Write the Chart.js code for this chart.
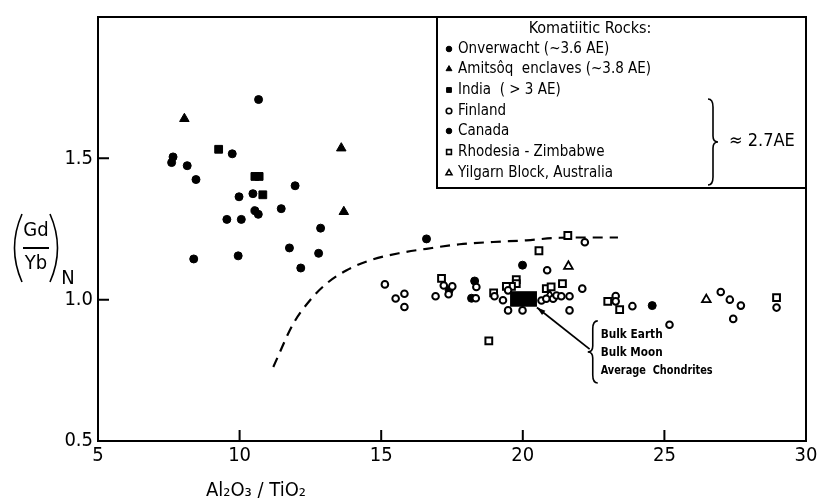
<!DOCTYPE html>
<html><head><meta charset="utf-8">
<script src="https://cdn.jsdelivr.net/npm/chart.js@4"></script>
<style>html,body{margin:0;padding:0;background:#fff;}canvas{display:block}</style>
</head><body>
<div style="width:821px;height:503px;position:relative"><canvas id="c" width="821" height="503"></canvas></div>
<script>
// ---------- data (x = Al2O3/TiO2, y = (Gd/Yb)N) ----------
const onverwacht = [[10.67,1.708],[9.74,1.516],[7.65,1.505],[7.6,1.485],[8.15,1.474],[8.46,1.425],[11.96,1.403],[9.98,1.364],[10.47,1.375],[11.47,1.322],[10.54,1.315],[10.66,1.302],[9.55,1.284],[10.06,1.284],[12.86,1.253],[11.76,1.183],[12.79,1.164],[8.38,1.144],[9.95,1.155],[12.16,1.112]];
const amitsoq = [[8.05,1.64],[13.59,1.536],[13.68,1.311]];
const india = [[9.26,1.532],[10.54,1.436],[10.69,1.436],[10.82,1.371]];
const finland = [[15.13,1.054],[15.51,1.004],[15.82,1.021],[15.82,0.974],[16.92,1.012],[17.21,1.05],[17.51,1.047],[17.38,1.019],[18.36,1.045],[18.34,1.005],[19.0,1.012],[19.3,0.998],[19.48,1.033],[19.48,0.962],[19.99,0.962],[20.66,0.997],[20.83,1.003],[21.07,1.003],[21.19,1.015],[21.36,1.012],[21.65,1.012],[22.1,1.039],[21.65,0.962],[20.86,1.104],[22.19,1.203],[23.28,1.013],[23.28,0.994],[23.87,0.977],[25.18,0.911],[26.99,1.027],[27.31,1.0],[27.7,0.979],[27.43,0.932],[28.96,0.972]];
const canada = [[16.6,1.215],[18.3,1.066],[19.99,1.122],[24.57,0.979],[18.19,1.005],[17.4,1.033]];
const rhodesia = [[17.13,1.075],[18.97,1.024],[19.77,1.071],[19.77,1.057],[19.6,1.047],[19.42,1.047],[20.57,1.173],[21.59,1.227],[20.83,1.039],[21.0,1.045],[21.4,1.057],[23.0,0.994],[23.42,0.965],[28.96,1.007],[18.8,0.854]];
const yilgarn = [[21.61,1.118],[20.95,1.015],[26.48,1.0]];
const boundary = [[11.19,0.762],[11.89,0.914],[12.48,0.997],[13.07,1.057],[13.78,1.104],[14.6,1.139],[15.66,1.165],[16.6,1.18],[17.77,1.196],[18.95,1.204],[20.13,1.21],[21.31,1.219],[22.48,1.22],[23.36,1.22]];
const bulkBox = {x0:19.55, x1:20.5, y0:0.975, y1:1.03};
const arrow = {from:[22.36,0.825], to:[20.5,0.972]};
const bulkLabels = ['Bulk Earth','Bulk Moon','Average  Chondrites'];
const bulkLabelPos = {x:22.75, y:[0.875,0.812,0.750], braceX:22.47, braceY0:0.925, braceY1:0.705};
const legendTitle = 'Komatiitic Rocks:';
const groupLabel = '\u2248 2.7AE';
const xTickLabels = ['5','10','15','20','25','30'];
const yTickLabels = ['0.5','1.0','1.5'];

const FONT = '"DejaVu Sans Condensed","DejaVu Sans",sans-serif';
const toXY = a => a.map(p => ({x:p[0], y:p[1]}));

function ds(label, arr, style, r, filled, bw){
  return {label, data:toXY(arr), pointStyle:style, pointRadius:r, pointHoverRadius:r,
    pointBackgroundColor: filled ? '#000' : '#fff', pointBorderColor:'#000', pointBorderWidth: bw, showLine:false};
}
const datasets = [
  ds('Onverwacht (~3.6 AE)', onverwacht, 'circle', 4, true, 1),
  ds('Amitsôq  enclaves (~3.8 AE)', amitsoq, 'triangle', 5.5, true, 1),
  ds('India  ( > 3 AE)', india, 'rect', 5.5, true, 1),
  ds('Finland', finland, 'circle', 3.3, false, 2),
  ds('Canada', canada, 'circle', 4, true, 1),
  ds('Rhodesia - Zimbabwe', rhodesia, 'rect', 4.8, false, 2),
  ds('Yilgarn Block, Australia', yilgarn, 'triangle', 5, false, 1.8),
  {label:'boundary', data:toXY(boundary), showLine:true, pointRadius:0, borderColor:'#000', borderWidth:2.2, borderDash:[10,7], cubicInterpolationMode:'monotone', fill:false}
];

function marker(ctx, d, x, y, r){
  ctx.save();
  ctx.fillStyle = d.pointBackgroundColor; ctx.strokeStyle = '#000'; ctx.lineWidth = Math.min(d.pointBorderWidth, 1.6);
  ctx.beginPath();
  if (d.pointStyle === 'circle') ctx.arc(x, y, r, 0, Math.PI*2);
  else if (d.pointStyle === 'rect') { const s = r*Math.SQRT1_2; ctx.rect(x-s, y-s, 2*s, 2*s); }
  else { const w = r*Math.sqrt(3)/2; ctx.moveTo(x, y-r); ctx.lineTo(x+w, y+r/2); ctx.lineTo(x-w, y+r/2); ctx.closePath(); }
  ctx.fill(); ctx.stroke(); ctx.restore();
}

function fitText(ctx, t, x, y, w){
  const m = ctx.measureText(t).width;
  ctx.save(); ctx.translate(x, y); ctx.scale(Math.min(1, w / m), 1); ctx.fillText(t, 0, 0); ctx.restore();
}

const deco = {
  id:'deco',
  afterDraw(chart){
    const {ctx, chartArea:a, scales:{x, y}} = chart;
    ctx.save();
    ctx.strokeStyle = '#000'; ctx.fillStyle = '#000'; ctx.lineWidth = 2;
    // frame
    ctx.strokeRect(a.left, a.top, a.right - a.left, a.bottom - a.top);
    // inward ticks
    ctx.beginPath();
    [10,15,20,25].forEach(v => { const px = x.getPixelForValue(v); ctx.moveTo(px, a.bottom); ctx.lineTo(px, a.bottom - 11); });
    [1.0,1.5].forEach(v => { const py = y.getPixelForValue(v); ctx.moveTo(a.left, py); ctx.lineTo(a.left + 11, py); });
    ctx.stroke();
    // bulk earth box
    const bx0 = x.getPixelForValue(bulkBox.x0), bx1 = x.getPixelForValue(bulkBox.x1);
    const by0 = y.getPixelForValue(bulkBox.y0), by1 = y.getPixelForValue(bulkBox.y1);
    ctx.fillRect(bx0, by1, bx1 - bx0, by0 - by1);
    // arrow
    const ax0 = x.getPixelForValue(arrow.from[0]), ay0 = y.getPixelForValue(arrow.from[1]);
    const ax1 = x.getPixelForValue(arrow.to[0]), ay1 = y.getPixelForValue(arrow.to[1]);
    ctx.lineWidth = 1.8;
    ctx.beginPath(); ctx.moveTo(ax0, ay0); ctx.lineTo(ax1, ay1); ctx.stroke();
    const ang = Math.atan2(ay1 - ay0, ax1 - ax0);
    ctx.beginPath(); ctx.moveTo(ax1, ay1);
    ctx.lineTo(ax1 - 9*Math.cos(ang - 0.3), ay1 - 9*Math.sin(ang - 0.3));
    ctx.lineTo(ax1 - 9*Math.cos(ang + 0.3), ay1 - 9*Math.sin(ang + 0.3));
    ctx.closePath(); ctx.fill();
    // brace + bulk labels
    const brx = x.getPixelForValue(bulkLabelPos.braceX);
    const bry0 = y.getPixelForValue(bulkLabelPos.braceY0), bry1 = y.getPixelForValue(bulkLabelPos.braceY1);
    drawBrace(ctx, brx, bry0, bry1, -1);
    ctx.font = 'bold 13px ' + FONT; ctx.textBaseline = 'middle'; ctx.textAlign = 'left';
    const tx = x.getPixelForValue(bulkLabelPos.x);
    const widths = [62, 62, 112];
    bulkLabels.forEach((t, i) => fitText(ctx, t, tx, y.getPixelForValue(bulkLabelPos.y[i]), widths[i]));

    // legend box
    const L = 437, T = a.top, R = a.right, B = 188;
    ctx.fillStyle = '#fff'; ctx.fillRect(L, T, R - L, B - T);
    ctx.fillStyle = '#000'; ctx.lineWidth = 2; ctx.strokeRect(L, T, R - L, B - T);
    ctx.font = '16px ' + FONT; ctx.textAlign = 'center';
    ctx.fillText(legendTitle, 590, 29);
    ctx.font = '15px ' + FONT; ctx.textAlign = 'left';
    const rows = [49, 69, 90, 111, 131, 152, 173];
    chart.data.datasets.slice(0, 7).forEach((d, i) => {
      marker(ctx, d, 449, rows[i], d.pointStyle === 'circle' ? 2.8 : 3.4);
      ctx.fillStyle = '#000';
      ctx.fillText(d.label, 458, rows[i]);
    });
    drawBrace(ctx, 713, rows[3] - 12, rows[6] + 12, 1);
    ctx.font = '18px ' + FONT;
    ctx.fillText(groupLabel, 729, (rows[4] + rows[5]) / 2);

    // y-axis title (Gd/Yb)N
    ctx.lineWidth = 1.6;
    ctx.beginPath(); ctx.moveTo(22, 214); ctx.quadraticCurveTo(7, 248, 22, 282); ctx.stroke();
    ctx.beginPath(); ctx.moveTo(50, 214); ctx.quadraticCurveTo(65, 248, 50, 282); ctx.stroke();
    ctx.font = '20px ' + FONT; ctx.textAlign = 'center';
    ctx.fillText('Gd', 36, 231);
    ctx.fillText('Yb', 36, 264);
    ctx.beginPath(); ctx.moveTo(23, 248); ctx.lineTo(49, 248); ctx.lineWidth = 2; ctx.stroke();
    ctx.fillText('N', 68, 279);
    // x-axis title
    ctx.font = '20px ' + FONT;
    ctx.fillText('Al\u2082O\u2083 / TiO\u2082', 256, 491);
    ctx.restore();
  }
};

function drawBrace(ctx, xx, y0, y1, dir){
  // dir=1 : "}" (tip to the right), dir=-1 : "{" (tip to the left)
  const m = (y0 + y1) / 2, d = 5 * dir;
  ctx.save(); ctx.lineWidth = 1.6; ctx.beginPath();
  ctx.moveTo(xx - d, y0);
  ctx.quadraticCurveTo(xx, y0, xx, y0 + 8);
  ctx.lineTo(xx, m - 6);
  ctx.quadraticCurveTo(xx, m, xx + d, m);
  ctx.quadraticCurveTo(xx, m, xx, m + 6);
  ctx.lineTo(xx, y1 - 8);
  ctx.quadraticCurveTo(xx, y1, xx - d, y1);
  ctx.stroke(); ctx.restore();
}

function noPad(s){ s.paddingLeft = 0; s.paddingRight = 0; s.paddingTop = 0; s.paddingBottom = 0; }

new Chart(document.getElementById('c'), {
  type:'scatter',
  data:{datasets},
  options:{
    responsive:false, animation:false, devicePixelRatio:1,
    layout:{padding:{top:17, right:15, left:0, bottom:0}},
    plugins:{legend:{display:false}, tooltip:{enabled:false}},
    scales:{
      x:{type:'linear', min:5, max:30, afterFit(s){ s.height = 62; noPad(s); },
        grid:{display:false, drawTicks:false}, border:{display:false},
        ticks:{stepSize:5, padding:3, color:'#000', font:{family:FONT, size:20},
          callback:(v) => xTickLabels[Math.round((v - 5) / 5)] ?? ''}},
      y:{type:'linear', min:0.5, max:2.0, afterFit(s){ s.width = 98; noPad(s); },
        grid:{display:false, drawTicks:false}, border:{display:false},
        ticks:{stepSize:0.5, padding:5, color:'#000', font:{family:FONT, size:20},
          callback:(v) => yTickLabels[Math.round((v - 0.5) / 0.5)] ?? ''}}
    }
  },
  plugins:[deco]
});
</script>
</body></html>
